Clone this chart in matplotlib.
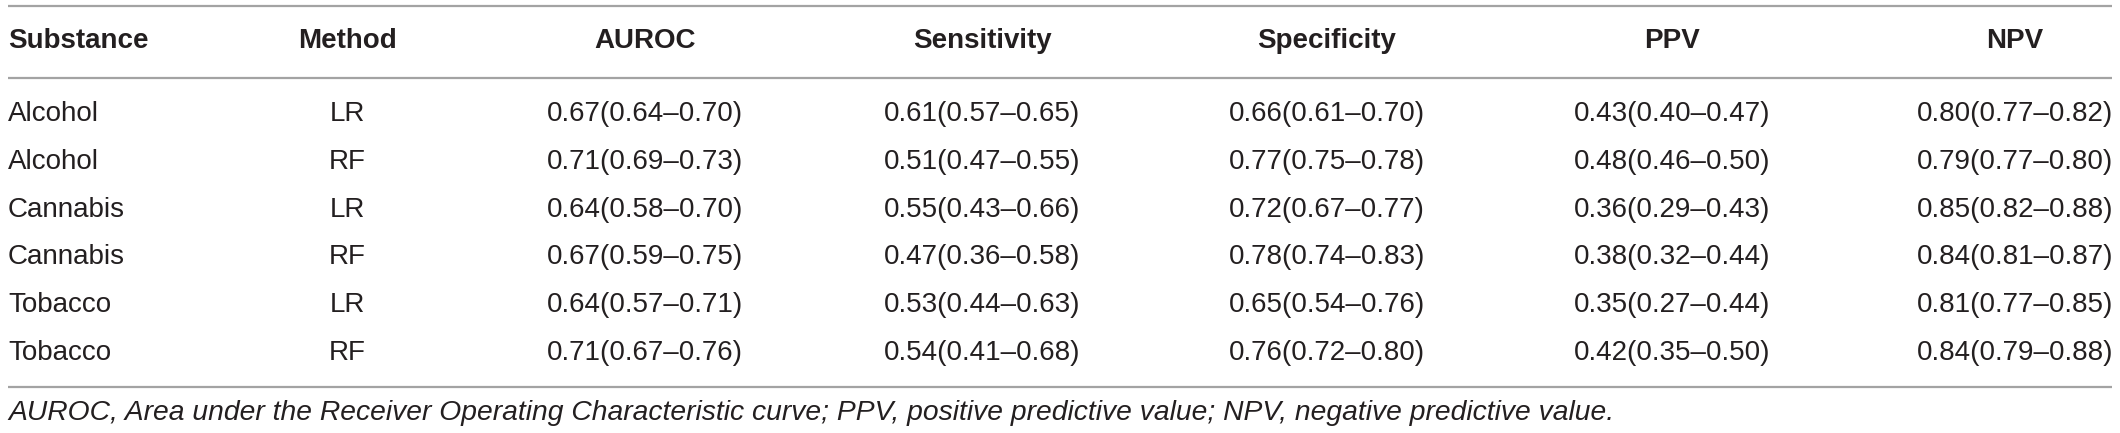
import matplotlib.pyplot as plt

# table contents
headers = ["Substance", "Method", "AUROC", "Sensitivity", "Specificity", "PPV", "NPV"]
substances = ["Alcohol", "Alcohol", "Cannabis", "Cannabis", "Tobacco", "Tobacco"]
methods = ["LR", "RF", "LR", "RF", "LR", "RF"]
auroc = ["0.67(0.64–0.70)", "0.71(0.69–0.73)", "0.64(0.58–0.70)",
         "0.67(0.59–0.75)", "0.64(0.57–0.71)", "0.71(0.67–0.76)"]
sensitivity = ["0.61(0.57–0.65)", "0.51(0.47–0.55)", "0.55(0.43–0.66)",
               "0.47(0.36–0.58)", "0.53(0.44–0.63)", "0.54(0.41–0.68)"]
specificity = ["0.66(0.61–0.70)", "0.77(0.75–0.78)", "0.72(0.67–0.77)",
               "0.78(0.74–0.83)", "0.65(0.54–0.76)", "0.76(0.72–0.80)"]
ppv = ["0.43(0.40–0.47)", "0.48(0.46–0.50)", "0.36(0.29–0.43)",
       "0.38(0.32–0.44)", "0.35(0.27–0.44)", "0.42(0.35–0.50)"]
npv = ["0.80(0.77–0.82)", "0.79(0.77–0.80)", "0.85(0.82–0.88)",
       "0.84(0.81–0.87)", "0.81(0.77–0.85)", "0.84(0.79–0.88)"]
footnote = ("AUROC, Area under the Receiver Operating Characteristic curve; "
            "PPV, positive predictive value; NPV, negative predictive value.")

columns = [substances, methods, auroc, sensitivity, specificity, ppv, npv]

# layout in pixels
W, H = 2120, 433
col_x = [8, 347, 645, 982, 1327, 1672, 2015]
header_y = 41
row_y0, row_dy = 114, 47.8
line_ys = [6, 78, 387]
foot_y = 413

txt_color = "#231f20"
line_color = "#a3a3a3"
fs = 20

plt.rcParams['font.family'] = ['Liberation Sans', 'DejaVu Sans']

fig = plt.figure(figsize=(W / 100, H / 100), dpi=100)
ax = fig.add_axes([0, 0, 1, 1])
ax.set_xlim(0, W)
ax.set_ylim(H, 0)
ax.axis('off')

for y in line_ys:
    ax.plot([8, 2112], [y, y], color=line_color, lw=1.6, solid_capstyle='butt')

for i, h in enumerate(headers):
    ha = 'left' if i == 0 else 'center'
    ax.text(col_x[i], header_y, h, ha=ha, va='center', fontsize=fs,
            fontweight='bold', color=txt_color)

for i, col in enumerate(columns):
    ha = 'left' if i == 0 else 'center'
    for r, val in enumerate(col):
        ax.text(col_x[i], row_y0 + r * row_dy, val, ha=ha, va='center',
                fontsize=fs, color=txt_color)

ax.text(8, foot_y, footnote, ha='left', va='center', fontsize=20.3,
        style='italic', color=txt_color)

fig.savefig('out.png', dpi=100)
